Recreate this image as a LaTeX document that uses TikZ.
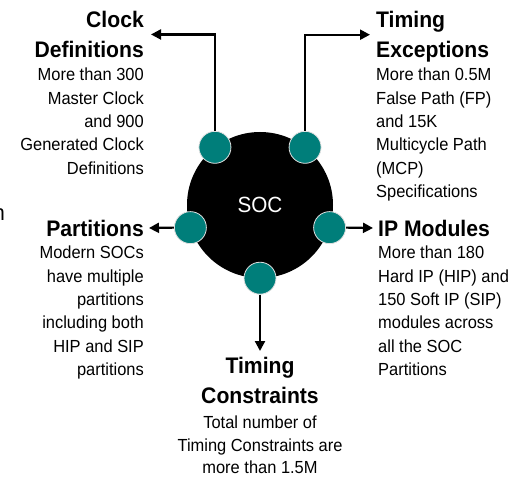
\documentclass[tikz,border=0pt]{standalone}
\usepackage{fontspec}
\setmainfont{Liberation Sans}[FakeStretch=0.94]
\usetikzlibrary{arrows.meta}

\definecolor{portteal}{RGB}{0,126,122}

\begin{document}
\begin{tikzpicture}[
    x=1pt, y=-1pt,
    >={Triangle[length=10pt,width=10pt]},
    every node/.style={inner sep=0pt},
    port/.style={circle,fill=portteal,draw=black!12,line width=0.8pt,minimum size=32pt},
    link/.style={->,line width=2.2pt},
    head/.style={font=\fontsize{22.5}{30}\selectfont\bfseries},
    body/.style={font=\fontsize{17.5}{23.3}\selectfont}
]
\useasboundingbox (0,0) rectangle (514,481);

\node[circle,fill=black,minimum size=146pt,text=white,font=\fontsize{22}{22}\selectfont] (soc) at (260,205) {SOC};

\node[port] (pclk) at (soc.128) {};
\node[port] (pexc) at (soc.52) {};
\node[port] (ppar) at (soc.198) {};
\node[port] (pip) at (soc.-18) {};
\node[port] (pcon) at (soc.-90) {};

\node[head,align=right,anchor=north east] (clkhead) at (144,11) {Clock\\Definitions};
\node[body,align=right,anchor=north east] (clkbody) at (144,68) {More than 300\\Master Clock\\and 900\\Generated Clock\\Definitions};

\node[head,align=left,anchor=north west] (exchead) at (376,11) {Timing\\Exceptions};
\node[body,align=left,anchor=north west] (excbody) at (376,68) {More than 0.5M\\False Path (FP)\\and 15K\\Multicycle Path\\(MCP)\\Specifications};

\node[head,anchor=east] (parhead) at (144,228) {Partitions};
\node[body,align=right,anchor=north east] (parbody) at (144,246) {Modern SOCs\\have multiple\\partitions\\including both\\HIP and SIP\\partitions};

\node[head,anchor=west] (iphead) at (378,228) {IP Modules};
\node[body,align=left,anchor=north west] (ipbody) at (378,246) {More than 180\\Hard IP (HIP) and\\150 Soft IP (SIP)\\modules across\\all the SOC\\Partitions};

\node[head,align=center,anchor=north] (conhead) at (260,357) {Timing\\Constraints};
\node[body,align=center,anchor=north,font=\fontsize{17.5}{22.5}\selectfont] (conbody) at (260,416) {Total number of\\Timing Constraints are\\more than 1.5M};

\node[font=\fontsize{22}{22}\selectfont,anchor=base east] (stub) at (5,221) {n};

\draw[link] (pclk.north) |- ([xshift=7pt]clkhead.east);
\draw[link] (pexc.north) |- ([xshift=-6pt,yshift=2pt]exchead.west);
\draw[link] (ppar.west) -- ([xshift=5pt]parhead.east);
\draw[link] (pip.east) -- ([xshift=-5pt]iphead.west);
\draw[link] (pcon.south) -- ([yshift=6pt]conhead.north);
\end{tikzpicture}
\end{document}
